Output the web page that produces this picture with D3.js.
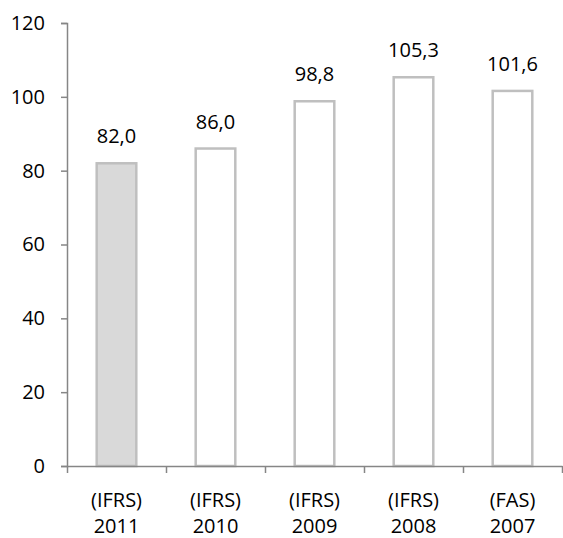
<!DOCTYPE html>
<html>
<head>
<meta charset="utf-8">
<script src="https://cdn.jsdelivr.net/npm/d3@7"></script>
<style>
  body { margin: 0; background: #fff; }
  text { font-family: "Open Sans", "DejaVu Sans", sans-serif; fill: #000; }
</style>
</head>
<body>
<div id="chart"></div>
<script>
var standards = ["(IFRS)", "(IFRS)", "(IFRS)", "(IFRS)", "(FAS)"];
var years = ["2011", "2010", "2009", "2008", "2007"];
var values = [82.0, 86.0, 98.8, 105.3, 101.6];
var yTicks = [0, 20, 40, 60, 80, 100, 120];

var svgWidth = 563;
var svgHeight = 538;

var margin = { top: 23, right: 1, bottom: 72, left: 67 };
var width = svgWidth - margin.left - margin.right;
var height = svgHeight - margin.top - margin.bottom;

var svg = d3.select("#chart")
    .append("svg")
    .attr("width", svgWidth)
    .attr("height", svgHeight);

var chartGroup = svg.append("g")
    .attr("transform", `translate(${margin.left}, ${margin.top})`);

var xBand = d3.scaleBand()
    .domain(years)
    .range([0, width])
    .paddingInner(0.6)
    .paddingOuter(0.3);

// tick marks sit on the category boundaries
var xEdges = d3.scaleLinear()
    .domain([0, years.length])
    .range([0, width]);

var yScale = d3.scaleLinear()
    .domain([0, 120])
    .range([height, 0]);

// bars
chartGroup.selectAll("rect.bar")
    .data(values)
    .enter()
    .append("rect")
    .attr("class", "bar")
    .attr("x", (d, i) => xBand(years[i]))
    .attr("y", d => yScale(d))
    .attr("width", xBand.bandwidth())
    .attr("height", d => height - yScale(d))
    .attr("fill", (d, i) => i === 0 ? "#d9d9d9" : "#ffffff")
    .attr("stroke", "#bfbfbf")
    .attr("stroke-width", 2.5);

// value labels
chartGroup.selectAll("text.value")
    .data(values)
    .enter()
    .append("text")
    .attr("class", "value")
    .attr("x", (d, i) => xBand(years[i]) + xBand.bandwidth() / 2)
    .attr("y", d => yScale(d) - 20)
    .attr("text-anchor", "middle")
    .attr("font-size", "20px")
    .text(d => d3.format(".1f")(d).replace(".", ","));

// y axis
var leftAxis = d3.axisLeft(yScale)
    .tickValues(yTicks)
    .tickSize(6)
    .tickPadding(16);

var yAxis = chartGroup.append("g").call(leftAxis);
yAxis.select(".domain").attr("stroke", "#868686").attr("stroke-width", 1.5);
yAxis.selectAll(".tick line").attr("stroke", "#868686").attr("stroke-width", 1.5);
yAxis.selectAll(".tick text")
    .attr("font-size", "20px")
    .attr("font-family", "Open Sans, DejaVu Sans, sans-serif")
    .attr("fill", "#000");

// x axis
var bottomAxis = d3.axisBottom(xEdges)
    .tickValues(d3.range(years.length + 1))
    .tickFormat("")
    .tickSize(7)
    .tickSizeOuter(0);

var xAxis = chartGroup.append("g")
    .attr("transform", `translate(0, ${height})`)
    .call(bottomAxis);
xAxis.select(".domain").attr("stroke", "#868686").attr("stroke-width", 1.5);
xAxis.selectAll(".tick line").attr("stroke", "#868686").attr("stroke-width", 1.5);

// category labels, two lines each
var catLabels = chartGroup.selectAll("text.cat")
    .data(years)
    .enter()
    .append("text")
    .attr("class", "cat")
    .attr("text-anchor", "middle")
    .attr("font-size", "20px")
    .attr("transform", d => `translate(${xBand(d) + xBand.bandwidth() / 2}, ${height})`);

catLabels.append("tspan")
    .attr("x", 0)
    .attr("y", 41)
    .text((d, i) => standards[i]);

catLabels.append("tspan")
    .attr("x", 0)
    .attr("y", 67)
    .text(d => d);
</script>
</body>
</html>
